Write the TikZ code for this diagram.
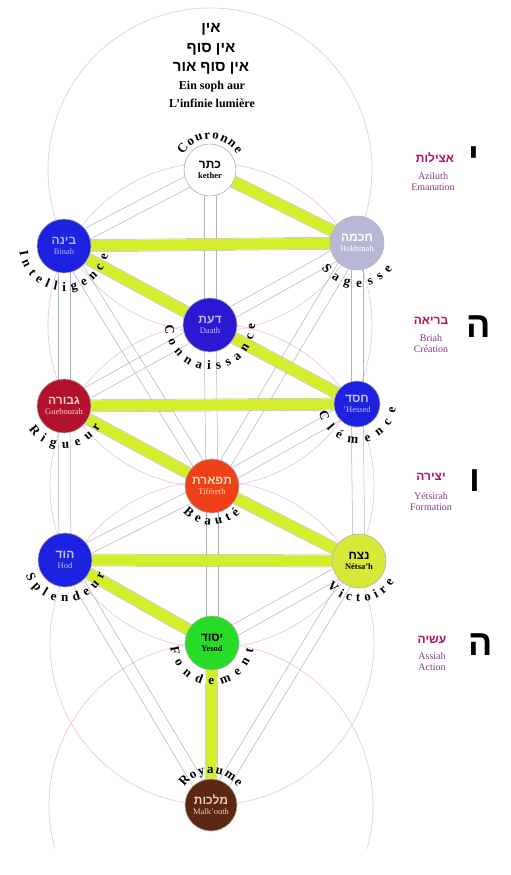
\documentclass[tikz,border=0pt]{standalone}
\usepackage{fontspec}
\setmainfont{Liberation Serif}
\newfontfamily\hebfont[Script=Hebrew]{Liberation Sans}
\TeXXeTstate=1
\usepackage{tikz}
\usetikzlibrary{calc,backgrounds,decorations.text}
\definecolor{chanline}{HTML}{AEB2C6}
\definecolor{flash}{HTML}{D4EE2C}
\definecolor{halo}{HTML}{F2C6E6}
\definecolor{monde}{HTML}{B0125E}
\definecolor{mondelat}{HTML}{8A3A88}
\definecolor{sblue}{HTML}{1C22E0}
\definecolor{sdaath}{HTML}{2A18D2}
\definecolor{sred}{HTML}{B2122E}
\definecolor{sorange}{HTML}{F0401A}
\definecolor{slime}{HTML}{D8E838}
\definecolor{sgreen}{HTML}{26DC26}
\definecolor{sbrown}{HTML}{5C2812}
\definecolor{sgrey}{HTML}{B8B8D6}
\newcommand\heb[1]{{\hebfont\bfseries\fontsize{12}{13}\selectfont\beginR #1\endR}}
\newcommand\nomfont{\bfseries\fontsize{13}{13}\selectfont}

\begin{document}
\begin{tikzpicture}[x=1pt, y=1pt,
    sefira/.style={circle, draw=gray!60, line width=0.6pt, minimum size=54pt, inner sep=0pt,
                   align=center, font=\fontsize{8.5}{9}\selectfont},
    chan/.style={draw=chanline, line width=0.5pt},
    flashpath/.style={draw=flash, line width=11pt},
    halo/.style={draw=halo, line width=0.7pt},
    nom/.style={decorate, decoration={text along path, text align={fit to path}, text={#1}}},
    monde/.style={text=monde, font=\hebfont\bfseries\fontsize{12}{12}\selectfont},
    mondelat/.style={text=mondelat, align=center, font=\fontsize{10}{11}\selectfont},
    lettre/.style={font=\hebfont\bfseries\fontsize{36}{36}\selectfont}
  ]
  \useasboundingbox (0,0) rectangle (511,-875);

  % les sephiroth
  \node[sefira, fill=white, minimum size=52pt] (kether) at (210,-170) {\heb{כתר}\\[1pt]\textbf{kether}};
  \node[sefira, fill=sgrey, text=white] (hokmah) at (357,-243) {\heb{חכמה}\\[1pt]Hokhmah};
  \node[sefira, fill=sblue, text=blue!30] (binah) at (64,-246) {\heb{בינה}\\[1pt]Binah};
  \node[sefira, fill=sdaath, text=blue!25] (daath) at (210,-325) {\heb{דעת}\\[1pt]Daath};
  \node[sefira, fill=sblue, text=blue!25, minimum size=46pt] (hessed) at (357,-404) {\heb{חסד}\\[1pt]'Hessed};
  \node[sefira, fill=sred, text=red!20] (guebourah) at (64,-406) {\heb{גבורה}\\[1pt]Guebourah};
  \node[sefira, fill=sorange, text=orange!30] (tiferet) at (212,-486) {\heb{תפארת}\\[1pt]Tiféreth};
  \node[sefira, fill=slime] (netsah) at (359,-561) {\heb{נצח}\\[1pt]\textbf{Nétsa'h}};
  \node[sefira, fill=sblue, text=blue!25] (hod) at (65,-560) {\heb{הוד}\\[1pt]Hod};
  \node[sefira, fill=sgreen] (yesod) at (212,-643) {\heb{יסוד}\\[1pt]\textbf{Yesod}};
  \node[sefira, fill=sbrown, text=brown!40, minimum size=52pt] (malkuth) at (211,-805) {\heb{מלכות}\\[1pt]Malk'outh};

  % noms autour des cercles
  \path[nom={|\nomfont|Couronne}] ([shift={(150:31)}]kether.center) arc[start angle=150, end angle=30, radius=31];
  \path[nom={|\nomfont|Intelligence}] ([shift={(187:45)}]binah.center) arc[start angle=187, end angle=348, radius=45];
  \path[nom={|\nomfont|Sagesse}] ([shift={(216:44)}]hokmah.center) arc[start angle=216, end angle=324, radius=44];
  \path[nom={|\nomfont|Connaissance}] ([shift={(181:45)}]daath.center) arc[start angle=181, end angle=362, radius=45];
  \path[nom={|\nomfont|Rigueur}] ([shift={(213:42)}]guebourah.center) arc[start angle=213, end angle=331, radius=42];
  \path[nom={|\nomfont|Clémence}] ([shift={(193:39)}]hessed.center) arc[start angle=193, end angle=354, radius=39];
  \path[nom={|\nomfont|Beauté}] ([shift={(222:39)}]tiferet.center) arc[start angle=222, end angle=316, radius=39];
  \path[nom={|\nomfont|Splendeur}] ([shift={(201:42)}]hod.center) arc[start angle=201, end angle=341, radius=42];
  \path[nom={|\nomfont|Victoire}] ([shift={(219:41)}]netsah.center) arc[start angle=219, end angle=329, radius=41];
  \path[nom={|\nomfont|Fondement}] ([shift={(186:42)}]yesod.center) arc[start angle=186, end angle=351, radius=42];
  \path[nom={|\nomfont|Royaume}] ([shift={(146:32)}]malkuth.center) arc[start angle=146, end angle=34, radius=32];

  % en haut
  \node[font=\hebfont\bfseries\fontsize{15}{15}\selectfont] (ain) at (211,-29) {\beginR אין\endR};
  \node[font=\hebfont\bfseries\fontsize{15}{15}\selectfont] (ainsof) at (211,-49) {\beginR אין סוף\endR};
  \node[font=\hebfont\bfseries\fontsize{15}{15}\selectfont] (ainsofaur) at (211,-68) {\beginR אין סוף אור\endR};
  \node[font=\bfseries\fontsize{12}{12}\selectfont] (einsoph) at (212,-87) {Ein soph aur};
  \node[font=\bfseries\fontsize{12}{12}\selectfont] (lumiere) at (212,-103) {L'infinie lumière};

  % les quatre mondes
  \node[monde] (atsilout) at (435,-158) {\beginR אצילות\endR};
  \node[mondelat] (atsiloutfr) at (433,-182) {Aziluth\\Emanation};
  \node[lettre] (yod) at (474,-158) {\beginR י\endR};
  \node[monde] (beria) at (431,-321) {\beginR בריאה\endR};
  \node[mondelat] (beriafr) at (431,-344) {Briah\\Création};
  \node[lettre] (he) at (479,-327) {\beginR ה\endR};
  \node[monde] (yetsira) at (431,-477) {\beginR יצירה\endR};
  \node[mondelat] (yetsirafr) at (431,-502) {Yétsirah\\Formation};
  \node[lettre] (vav) at (475,-481) {\beginR ו\endR};
  \node[monde] (assia) at (432,-640) {\beginR עשיה\endR};
  \node[mondelat] (assiafr) at (432,-662) {Assiah\\Action};
  \node[lettre] (hebis) at (481,-645) {\beginR ה\endR};

  \begin{scope}[on background layer]
    \fill[white] (0,0) rectangle (511,-875);
    \begin{scope}
      \clip (0,0) rectangle (511,-848);
      \foreach \c in {kether,daath,tiferet,yesod,malkuth}
        \draw[halo] (\c.center) circle[radius=162];
    \end{scope}
    % sentiers
    \foreach \a/\b in {kether/binah, kether/daath, kether/hokmah, hokmah/binah, daath/tiferet,
        hokmah/daath, hokmah/tiferet, hokmah/hessed, binah/guebourah, binah/tiferet, binah/daath,
        daath/hessed, daath/guebourah, hessed/guebourah, hessed/tiferet, hessed/netsah,
        guebourah/tiferet, guebourah/hod, tiferet/netsah, tiferet/yesod, tiferet/hod,
        netsah/hod, netsah/yesod, netsah/malkuth, hod/yesod, hod/malkuth, yesod/malkuth} {
      \draw[chan] ($(\a.center)!6pt!90:(\b.center)$) -- ($(\b.center)!6pt!-90:(\a.center)$);
      \draw[chan] ($(\a.center)!6pt!-90:(\b.center)$) -- ($(\b.center)!6pt!90:(\a.center)$);
    }
    % l'eclair
    \foreach \a/\b in {kether/hokmah, hokmah/binah, binah/daath, daath/hessed, hessed/guebourah,
        guebourah/tiferet, tiferet/netsah, netsah/hod, hod/yesod, yesod/malkuth}
      \draw[flashpath] (\a.center) -- (\b.center);
  \end{scope}
\end{tikzpicture}
\end{document}
